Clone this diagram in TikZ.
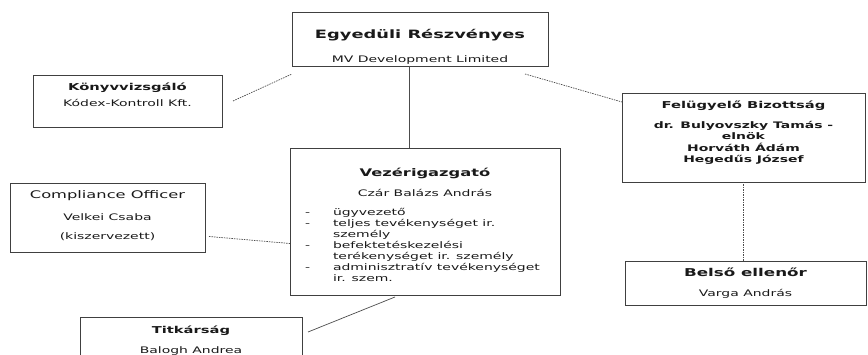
\documentclass[tikz,border=0pt]{standalone}
\usepackage{fontspec}
\usepackage{tikz}
\newfontfamily\orgfont[FakeStretch=1.55]{DejaVu Sans}
\newcommand{\boxtitle}[2][9.5]{{\fontsize{#1}{11}\selectfont\bfseries #2}}
\newcommand{\dutyline}[2]{\makebox[240pt][l]{\makebox[28pt][l]{#1}#2}}

\begin{document}
\begin{tikzpicture}[x=1pt,y=-1pt,draw=black!75]
	\tikzstyle{o-node}=[rectangle,draw=black!75,line width=0.8pt,anchor=north west,inner sep=0pt,outer sep=0pt,text=black!90,font=\orgfont\fontsize{9}{11}\selectfont]
	\tikzstyle{solid-link}=[draw=black!70,line width=0.7pt]
	\tikzstyle{dash-link}=[draw=black!70,line width=0.7pt,dash pattern=on 1.5pt off 1pt]
	\useasboundingbox (0,0) rectangle (868,355);

	% owner, auditor, board
	\node[o-node,minimum width=256pt,text height=26.5pt,text depth=27.5pt] (owner) at (292,12)
		{\begin{tabular}[t]{@{}c@{}}\boxtitle[11.5]{Egyedüli Részvényes}\\[13pt] MV Development Limited\end{tabular}};
	\node[o-node,minimum width=189pt,text height=16pt,text depth=36pt] (auditor) at (33,75)
		{\begin{tabular}[t]{@{}c@{}}\boxtitle{Könyvvizsgáló}\\[5pt] Kódex-Kontroll Kft.\end{tabular}};
	\node[o-node,minimum width=243pt,text height=15.5pt,text depth=73.5pt] (board) at (622,93)
		{\begin{tabular}[t]{@{}c@{}}\boxtitle{Felügyelő Bizottság}\\[9pt]
		\textbf{dr. Bulyovszky Tamás -}\\ \textbf{elnök}\\ \textbf{Horváth Ádám}\\ \textbf{Hegedűs József}\end{tabular}};

	% management
	\node[o-node,minimum width=270pt,text height=28.5pt,text depth=118.5pt] (ceo) at (290,148)
		{\begin{tabular}[t]{@{}c@{}}\boxtitle[10.5]{Vezérigazgató}\\[9pt] Czár Balázs András\\[8pt]
		\dutyline{-}{ügyvezető}\\
		\dutyline{-}{teljes tevékenységet ir.}\\
		\dutyline{}{személy}\\
		\dutyline{-}{befektetéskezelési}\\
		\dutyline{}{terékenységet ir. személy}\\
		\dutyline{-}{adminisztratív tevékenységet}\\
		\dutyline{}{ir. szem.}\end{tabular}};
	\node[o-node,minimum width=195pt,text height=15.5pt,text depth=53.5pt] (compliance) at (10,183)
		{\begin{tabular}[t]{@{}c@{}}{\fontsize{10.5}{11}\selectfont Compliance Officer}\\[11pt] Velkei Csaba\\[8pt] (kiszervezett)\end{tabular}};
	\node[o-node,minimum width=241pt,text height=15.5pt,text depth=28.5pt] (inspector) at (625,261)
		{\begin{tabular}[t]{@{}c@{}}\boxtitle[10.8]{Belső ellenőr}\\[9pt] Varga András\end{tabular}};
	\node[o-node,minimum width=222pt,text height=16.5pt,text depth=41.5pt] (secretary) at (80,317)
		{\begin{tabular}[t]{@{}c@{}}\boxtitle{Titkárság}\\[9pt] Balogh Andrea\end{tabular}};

	% connectors
	\draw[solid-link] ([xshift=-11pt]owner.south) -- ([xshift=-11pt]owner.south |- ceo.north);
	\draw[dash-link] ([xshift=11pt]auditor.east) -- ([yshift=-8pt]owner.south west);
	\draw[dash-link] ([xshift=-23pt,yshift=-8pt]owner.south east) -- ([yshift=-9pt]board.north west);
	\draw[dash-link] ([xshift=4pt,yshift=-19pt]compliance.east) -- ([yshift=-22pt]ceo.west);
	\draw[dash-link] (board.south) -- (board.south |- inspector.north);
	\draw[solid-link] ([xshift=6pt,yshift=-15pt]secretary.north east) -- ([xshift=-30pt,yshift=-2pt]ceo.south);
\end{tikzpicture}
\end{document}
